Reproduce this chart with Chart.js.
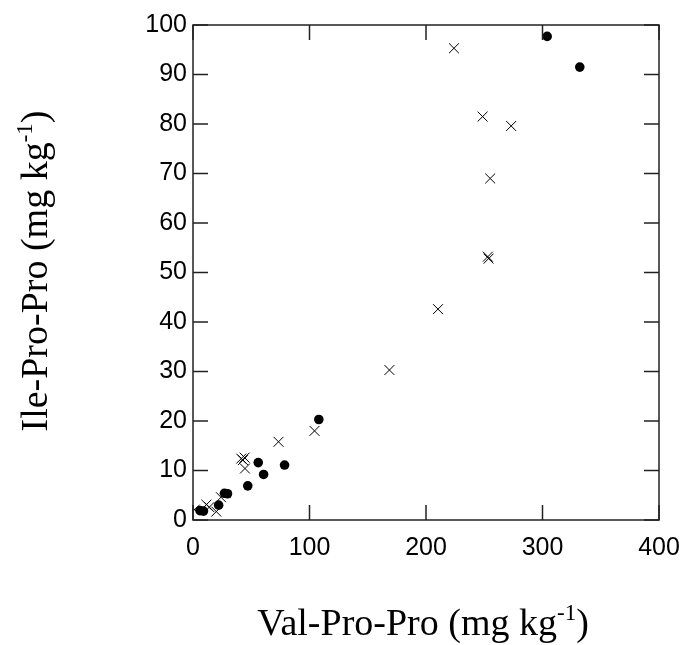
<!DOCTYPE html>
<html>
<head>
<meta charset="utf-8">
<script src="https://cdn.jsdelivr.net/npm/chart.js@4/dist/chart.umd.min.js"></script>
<style>
  html, body { margin: 0; padding: 0; background: #fff; }
  #wrap { width: 685px; height: 645px; }
</style>
</head>
<body>
<div id="wrap"><canvas id="c" width="685" height="645"></canvas></div>
<script>
// Series 1: filled circles (x = Val-Pro-Pro, y = Ile-Pro-Pro)
const dotsX = [304, 332, 108, 56, 78.6, 60.6, 47, 27, 29.6, 22, 9, 6];
const dotsY = [97.7, 91.5, 20.3, 11.6, 11.1, 9.2, 6.9, 5.4, 5.3, 3.0, 1.8, 1.9];
// Series 2: crosses
const crossX = [224, 248.6, 273.1, 255.1, 253.1, 253.7, 210.3, 168.6, 104.3, 73.4, 41.4, 44.3, 42.9, 44.6, 24, 11.5, 14, 20, 1.5];
const crossY = [95.3, 81.5, 79.6, 69.0, 53.2, 52.8, 42.6, 30.3, 18.0, 15.8, 12.4, 12.6, 12.1, 10.4, 4.6, 3.1, 2.6, 1.7, 2.1];
// Axes
const xTicks = [0, 100, 200, 300, 400];
const yTicks = [0, 10, 20, 30, 40, 50, 60, 70, 80, 90, 100];
const xTitle = 'Val-Pro-Pro (mg kg';
const yTitle = 'Ile-Pro-Pro (mg kg';
const supText = '-1';

const toPts = (xs, ys) => xs.map((x, i) => ({ x: x, y: ys[i] }));

const framePlugin = {
  id: 'frame',
  afterDraw(chart) {
    const ctx = chart.ctx;
    const a = chart.chartArea;
    const xs = chart.scales.x, ys = chart.scales.y;
    ctx.save();
    ctx.strokeStyle = '#222';
    ctx.lineWidth = 1.5;
    ctx.strokeRect(a.left, a.top, a.right - a.left, a.bottom - a.top);
    const tl = 15;
    ctx.beginPath();
    xTicks.forEach(v => {
      const px = xs.getPixelForValue(v);
      ctx.moveTo(px, a.bottom); ctx.lineTo(px, a.bottom - tl);
      ctx.moveTo(px, a.top); ctx.lineTo(px, a.top + tl);
    });
    yTicks.forEach(v => {
      const py = ys.getPixelForValue(v);
      ctx.moveTo(a.left, py); ctx.lineTo(a.left + tl, py);
      ctx.moveTo(a.right, py); ctx.lineTo(a.right - tl, py);
    });
    ctx.stroke();

    // axis titles with superscript
    const size = 38, sup = 23;
    const fam = 'px "Liberation Serif", "Times New Roman", serif';
    const drawTitle = (main, cx, baseY) => {
      ctx.font = size + fam;
      const w1 = ctx.measureText(main).width;
      const w3 = ctx.measureText(')').width;
      ctx.font = sup + fam;
      const w2 = ctx.measureText(supText).width;
      const total = w1 + w2 + w3;
      const x0 = cx - total / 2;
      ctx.fillStyle = '#000';
      ctx.textAlign = 'left';
      ctx.textBaseline = 'alphabetic';
      ctx.font = size + fam;
      ctx.fillText(main, x0, baseY);
      ctx.font = sup + fam;
      ctx.fillText(supText, x0 + w1, baseY - 15);
      ctx.font = size + fam;
      ctx.fillText(')', x0 + w1 + w2, baseY);
    };
    drawTitle(xTitle, 423, 635);
    ctx.translate(47, 271);
    ctx.rotate(-Math.PI / 2);
    drawTitle(yTitle, 0, 0);
    ctx.restore();
  }
};

new Chart(document.getElementById('c'), {
  type: 'scatter',
  data: {
    datasets: [
      {
        label: 'dots',
        data: toPts(dotsX, dotsY),
        pointStyle: 'circle',
        pointRadius: 4.8,
        pointHoverRadius: 4.8,
        backgroundColor: '#000',
        borderColor: '#000',
        borderWidth: 0
      },
      {
        label: 'crosses',
        data: toPts(crossX, crossY),
        pointStyle: 'crossRot',
        pointRadius: 7,
        pointHoverRadius: 7,
        backgroundColor: '#000',
        borderColor: '#000',
        borderWidth: 1
      }
    ]
  },
  options: {
    responsive: false,
    animation: false,
    events: [],
    layout: { padding: { left: 0, top: 25, right: 26, bottom: 0 } },
    plugins: { legend: { display: false }, tooltip: { enabled: false } },
    scales: {
      x: {
        type: 'linear',
        min: 0, max: 400,
        afterFit(s) { s.height = 125; s.paddingLeft = 0; s.paddingRight = 0; },
        afterBuildTicks(s) { s.ticks = xTicks.map(v => ({ value: v })); },
        grid: { display: false, drawTicks: false },
        border: { display: false },
        ticks: {
          padding: 13,
          color: '#000',
          maxRotation: 0,
          font: { family: '"Liberation Sans", Arial, sans-serif', size: 25 }
        }
      },
      y: {
        type: 'linear',
        min: 0, max: 100,
        afterFit(s) { s.width = 193; s.paddingTop = 0; s.paddingBottom = 0; },
        afterBuildTicks(s) { s.ticks = yTicks.map(v => ({ value: v })); },
        grid: { display: false, drawTicks: false },
        border: { display: false },
        ticks: {
          padding: 6,
          color: '#000',
          font: { family: '"Liberation Sans", Arial, sans-serif', size: 25 }
        }
      }
    }
  },
  plugins: [framePlugin]
});
</script>
</body>
</html>
